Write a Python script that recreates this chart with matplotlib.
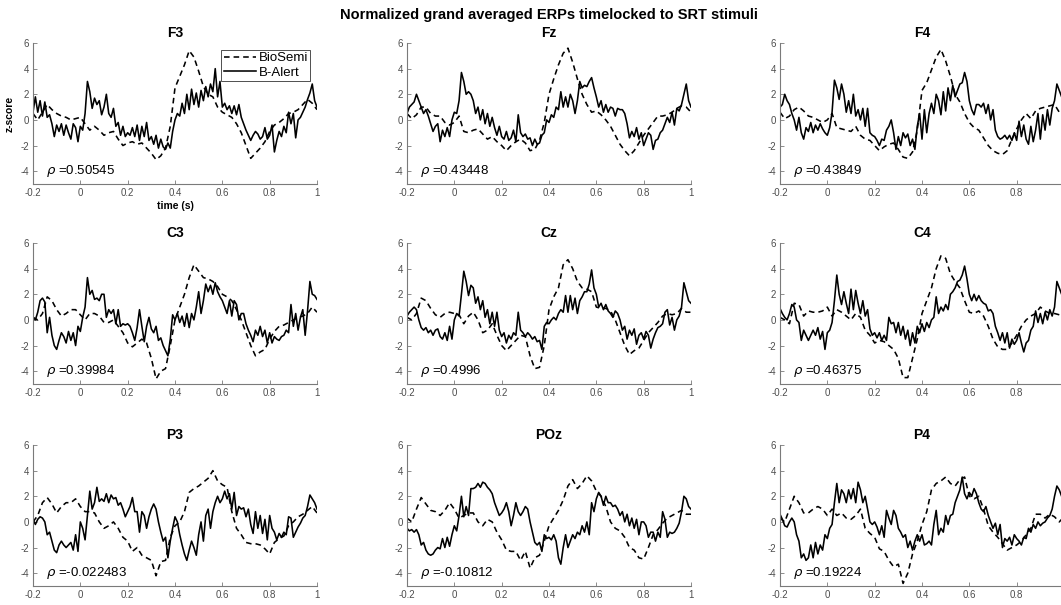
import numpy as np
import matplotlib
matplotlib.use('Agg')
import matplotlib.pyplot as plt

plt.rcParams['font.family'] = ['Liberation Sans', 'DejaVu Sans']
plt.rcParams['axes.unicode_minus'] = False

channels = ['F3', 'Fz', 'F4', 'C3', 'Cz', 'C4', 'P3', 'POz', 'P4']
rho = ['0.50545', '0.43448', '0.43849', '0.39984', '0.4996', '0.46375',
       '-0.022483', '-0.10812', '0.19224']
xtick_vals = [-0.2, 0, 0.2, 0.4, 0.6, 0.8, 1]
xtick_labels = ['-0.2', '0', '0.2', '0.4', '0.6', '0.8', '1']
ytick_vals = [-4, -2, 0, 2, 4, 6]

# BioSemi grand averages (z-score), 20 ms steps, -0.2 .. 1.0 s
biosemi_F3 = [0.5, 0.0, 0.6, 1.2, 0.8, 0.5, 0.3, 0.2, 0.0, 0.1,
              0.2, -0.3, -0.8, -0.5, -0.8, -1.2, -1.0, -0.9, -1.5, -2.0,
              -1.8, -1.7, -1.9, -1.8, -2.2, -2.6, -3.1, -2.8, -2.2, -0.5,
              2.5, 3.4, 4.3, 5.4, 4.9, 3.8, 2.6, 2.0, 1.8, 1.0,
              0.6, 0.4, 0.2, -0.3, -1.0, -2.0, -3.0, -2.6, -2.2, -1.7,
              -0.9, -0.4, -0.2, 0.1, 0.5, 0.6, 0.8, 1.2, 1.6, 1.3,
              0.8]
biosemi_Fz = [0.5, 0.1, 0.4, 1.0, 1.0, 0.5, 0.3, 0.3, -0.2, -0.4,
              -0.2, 0.3, -0.9, -1.0, -0.8, -0.7, -1.1, -1.5, -1.3, -1.7,
              -2.0, -2.4, -2.0, -1.7, -1.5, -1.8, -2.4, -2.3, -1.6, -0.2,
              2.0, 3.2, 4.3, 5.2, 5.6, 4.5, 3.2, 2.0, 1.2, 0.6,
              0.7, 0.4, 0.0, -0.5, -1.2, -1.9, -2.4, -2.8, -2.4, -1.8,
              -1.2, -0.7, -0.2, 0.3, 0.3, 0.4, 0.6, 0.9, 1.1, 1.0,
              0.6]
biosemi_F4 = [0.6, 0.1, 0.3, 0.8, 1.0, 0.7, 0.3, 0.2, 0.0, -0.2,
              0.0, 0.5, -0.6, -0.7, -0.8, -0.9, -0.5, -1.2, -1.5, -1.6,
              -2.0, -2.4, -2.1, -1.9, -1.8, -2.3, -2.9, -3.0, -2.5, -0.8,
              2.3, 2.9, 3.9, 4.9, 5.5, 4.6, 3.4, 2.0, 1.4, 0.5,
              -0.2, -0.6, -0.8, -1.4, -2.0, -2.4, -2.6, -2.7, -2.4, -1.5,
              -0.7, 0.0, 0.5, 0.1, 0.7, 0.9, 1.0, 1.1, 1.2, 0.6,
              0.3]
biosemi_C3 = [0.2, 0.0, 0.5, 1.8, 1.5, 0.8, 0.3, 0.5, 0.8, 0.8,
              0.4, 0.0, 0.5, 0.5, 0.3, -0.2, -0.2, 0.0, -0.5, -1.0,
              -1.8, -2.1, -1.8, -1.5, -1.8, -3.0, -4.6, -4.0, -3.8, -2.0,
              0.0, 1.0, 2.0, 3.3, 4.3, 3.8, 3.3, 3.2, 3.0, 2.6,
              2.0, 1.8, 1.5, 0.8, 0.0, -1.0, -2.0, -2.8, -2.5, -2.3,
              -1.5, -0.9, -0.5, -0.4, -0.2, 0.0, 0.2, 0.3, 0.5, 1.0,
              0.6]
biosemi_Cz = [0.2, 0.0, 0.5, 1.7, 1.5, 0.9, 0.4, 0.2, 0.5, 0.6,
              0.5, 0.4, -0.3, 0.3, 0.6, 0.0, -1.0, -0.8, -0.3, -1.2,
              -2.0, -2.4, -2.0, -1.6, -1.2, -1.3, -2.8, -3.8, -3.7, -2.0,
              0.8, 1.8, 2.5, 4.3, 4.7, 4.0, 3.0, 2.5, 2.4, 2.2,
              1.0, 0.9, 0.9, 0.7, 0.0, -1.0, -2.0, -2.7, -2.4, -2.2,
              -1.6, -1.0, -0.6, -0.2, 0.3, 0.5, 0.4, 0.5, 0.9, 0.6,
              0.6]
biosemi_C4 = [0.2, 0.0, -0.3, 1.3, 1.2, 0.3, 0.7, 0.6, 0.6, 0.7,
              1.0, 0.3, 0.8, 0.6, 0.3, 0.0, 0.5, 0.2, -0.8, -1.2,
              -1.8, -1.6, -1.7, -2.0, -2.3, -3.0, -4.5, -4.5, -3.0, -1.5,
              0.5, 1.5, 2.5, 4.0, 5.0, 4.8, 3.6, 3.0, 2.5, 1.5,
              0.6, 0.5, 0.7, 0.3, -0.5, -1.5, -2.1, -2.3, -2.3, -1.8,
              -1.2, -0.5, 0.0, 0.3, 0.5, 1.0, 0.7, 0.5, 0.5, 0.4,
              0.3]
biosemi_P3 = [0.0, 0.5, 1.5, 1.9, 1.4, 0.7, 1.2, 1.5, 1.5, 1.8,
              1.2, 0.8, 0.8, 0.7, 0.0, -0.5, -0.3, 0.0, -0.5, -1.2,
              -1.5, -2.3, -2.0, -2.6, -2.8, -3.0, -4.2, -3.1, -3.0, -1.2,
              -0.3, 0.0, 0.8, 2.3, 2.6, 2.8, 3.1, 3.4, 4.0, 3.2,
              2.9, 2.7, 0.8, -0.5, -1.0, -1.6, -1.7, -1.7, -1.8, -2.1,
              -2.5, -1.6, -1.3, -1.1, -0.3, 0.0, 0.4, 0.6, 0.9, 1.2,
              0.7]
biosemi_POz = [0.3, 0.0, 1.0, 1.9, 1.4, 0.9, 0.8, 0.5, 0.9, 1.5,
               1.0, 0.3, 0.5, 0.7, 0.7, 0.0, -0.3, 0.2, 0.0, -0.8,
               -1.4, -2.2, -2.3, -2.3, -3.0, -2.3, -3.6, -2.8, -2.6, -1.5,
               -0.3, 0.3, 0.9, 1.7, 2.8, 3.3, 2.6, 3.0, 3.6, 3.2,
               2.4, 2.0, 1.2, 0.0, -0.5, -0.7, -1.2, -2.0, -2.2, -2.8,
               -2.9, -2.0, -1.0, -0.6, -0.1, 0.3, 0.5, 0.7, 0.9, 0.6,
               0.6]
biosemi_P4 = [0.3, 0.0, 1.0, 2.0, 1.5, 0.7, 0.7, 1.0, 1.2, 1.0,
              0.5, 1.0, 0.5, 0.7, 0.3, 0.2, 0.5, 1.0, -0.5, -0.9,
              -1.2, -2.1, -2.3, -3.0, -3.5, -3.3, -4.8, -4.0, -2.5, -1.5,
              -0.2, 0.8, 2.5, 3.0, 3.2, 3.5, 3.0, 2.8, 3.3, 3.5,
              2.0, 1.8, 2.0, 1.0, -0.3, -0.8, -1.2, -1.7, -2.2, -2.0,
              -1.8, -1.5, -1.0, -0.5, 0.6, 0.6, 0.3, 0.6, 0.4, 0.0,
              0.4]

# B-Alert grand averages (z-score), 10 ms steps, -0.2 .. 1.0 s
balert_F3 = [0.6, 1.8, 0.6, 1.5, 0.3, 1.4, 0.2, 0.4, -0.3, -1.3,
             -0.4, -0.9, -0.3, -1.2, -0.4, -1.0, -1.5, -0.3, -0.6, -1.7,
             -0.5, -0.8, 0.5, 3.0, 2.2, 0.9, 1.7, 1.2, 1.5, 0.4,
             1.0, 2.0, 0.5, 0.2, 0.9, -0.5, -0.2, -1.2, -0.5, -1.3,
             -1.0, -1.2, -0.6, -1.3, -0.4, -1.6, -0.5, -1.3, -0.2, -1.6,
             -1.3, -1.9, -1.2, -2.2, -1.5, -2.1, -2.3, -1.8, -2.2, -0.9,
             0.0, 0.5, 0.3, 1.3, 0.5, 2.0, 0.8, 2.4, 1.2, 2.1,
             1.0, 2.3, 1.5, 2.6, 1.8, 2.8, 2.2, 4.0, 1.8, 3.0,
             1.0, 1.3, 0.8, 1.1, 0.5, 1.1, 0.4, 1.2, 0.2, -0.3,
             -0.8, -1.2, -1.6, -1.2, -0.9, -1.1, -1.5, -1.3, -0.6, -1.5,
             -1.2, -0.4, -2.5, -1.6, -0.9, -1.3, -0.5, -1.0, 0.6, -0.3,
             0.5, -1.4, 0.0, 0.2, 0.6, 1.0, 1.6, 2.1, 2.8, 1.5,
             1.0]
balert_Fz = [0.5, 1.0, 1.2, 1.4, 2.0, 1.5, 1.0, 0.5, 0.8, 0.3,
             -0.3, -0.9, -0.5, -0.3, -1.7, -0.8, -1.3, -0.6, -1.3, 0.0,
             0.6, 0.5, 1.5, 3.7, 3.0, 2.0, 2.2, 2.0, 1.5, 0.5,
             1.0, 0.0, 0.8, -0.3, 0.5, -0.5, 0.2, -0.6, -1.2, -0.5,
             -1.3, -1.5, -0.9, -1.6, -1.4, -0.8, -1.7, 0.4, -1.0, -1.3,
             -1.1, -1.5, -1.4, -2.0, -1.5, -1.9, -1.8, -1.2, -1.0, 0.0,
             -0.2, 0.4, 0.2, 1.0, 0.8, 2.2, 1.0, 1.8, 1.0, 2.0,
             1.5, 0.5, 1.5, 3.0, 2.5, 2.7, 2.6, 3.0, 3.3, 2.5,
             1.8, 1.0, 1.5, 0.6, 1.2, 0.6, 1.0, 0.9, 0.3, 0.9,
             0.8, 0.8, 0.5, -0.3, -1.4, -0.9, -1.3, -0.6, -1.5, -1.0,
             -2.0, -1.5, -1.0, -1.2, -2.3, -1.6, -1.5, -1.0, -0.8, -0.3,
             0.2, -0.2, 0.6, -0.4, 0.9, 0.7, 1.2, 2.0, 2.8, 1.5,
             1.0]
balert_F4 = [1.0, 1.2, 2.0, 1.5, 1.2, 0.5, 0.0, -0.8, 0.2, -1.0,
             -1.5, -0.6, -0.9, -0.2, -1.0, -0.4, -0.8, -0.3, -0.7, -1.0,
             -1.2, -0.6, 0.6, 3.1, 2.5, 1.6, 2.8, 2.0, 0.6, 1.5,
             0.5, 2.0, 0.3, 0.8, 0.0, 0.9, -0.5, 0.9, -1.0, -1.2,
             -1.3, -1.6, -2.0, -1.5, -1.6, -0.8, -0.5, 0.0, -1.0, -2.3,
             -1.3, -2.0, -1.0, -1.4, -1.1, -2.0, -1.5, -2.3, -0.5, 0.5,
             -1.5, 0.8, -1.0, 0.5, 1.3, 0.5, 2.0, 1.5, 0.4, 2.2,
             0.7, 2.5, 1.5, 2.7, 1.8, 2.3, 2.8, 2.9, 3.7, 3.0,
             1.5, 0.8, 0.4, 1.2, 1.2, 1.0, 1.3, 0.5, 1.2, 0.0,
             0.8, -0.8, -1.3, -1.5, -1.4, -1.2, -1.5, -1.2, -1.6, -1.0,
             -1.6, -0.1, -1.3, -0.4, -1.5, -1.9, -0.5, -1.7, -0.8, 0.5,
             -1.5, 0.4, -0.8, 0.8, -0.4, 0.9, 1.5, 2.8, 2.3, 1.8,
             1.5]
balert_C3 = [0.2, 0.0, 0.6, 1.5, 1.7, 1.4, -1.0, 0.2, -1.2, -2.0,
             -2.3, -1.6, -1.0, -1.3, -1.8, -0.9, -1.6, -1.0, -2.0, -0.5,
             -0.9, 0.2, 1.0, 3.3, 2.0, 2.3, 1.6, 1.7, 1.5, 2.0,
             2.0, 0.2, 0.8, 0.5, 0.8, -0.3, 0.8, -0.5, -0.3, -0.4,
             -0.3, -0.5, -1.0, -1.6, -0.6, 0.8, -0.5, -1.7, -0.5, 0.2,
             -0.7, -1.0, -0.5, -1.6, -1.4, -2.0, -2.4, -2.8, -1.5, 0.4,
             0.0, 0.5, -0.2, 0.3, -0.5, 0.5, -0.6, 0.5, 0.0, 1.0,
             2.2, 0.5, 1.5, 2.8, 2.2, 2.7, 2.0, 2.9, 2.2, 1.8,
             1.5, 1.0, 0.5, 1.5, 0.3, 1.5, 1.2, 0.0, 0.5, 0.5,
             -0.3, -0.8, -1.2, -1.7, -0.8, -1.2, -0.5, -1.3, -0.8, -1.8,
             -1.0, -1.8, -1.3, -1.5, -1.6, -1.3, -1.2, -0.8, -1.0, 1.2,
             -0.5, 0.5, -0.8, 0.2, 0.8, -1.2, 0.7, 3.0, 2.0, 1.9,
             1.6]
balert_Cz = [0.3, 0.6, 0.8, 1.0, 0.8, 0.0, -0.6, -0.8, -0.6, -1.0,
             -0.8, -1.2, -0.8, -0.7, -1.3, -1.5, -1.0, -1.6, -0.5, -1.5,
             0.0, 0.5, 0.3, 2.0, 3.8, 3.0, 1.9, 2.7, 2.5, 1.3,
             1.8, 0.8, 1.5, 0.2, 0.8, -0.3, 0.6, -0.5, 0.6, -0.8,
             -1.3, -1.0, -1.8, -1.2, -1.5, -1.0, -1.2, 0.6, -0.8, -1.0,
             -1.3, -1.0, -1.2, -1.5, -1.3, -1.7, -1.6, -2.3, -0.5, -0.2,
             -0.3, 0.0, 0.2, 0.0, 0.5, 0.8, 0.6, 1.9, 0.6, 1.9,
             0.8, 1.7, 0.5, 1.5, 1.8, 2.2, 2.2, 2.8, 3.9, 2.5,
             2.0, 1.0, 1.3, 0.8, 1.2, 0.7, 0.5, 0.2, 0.7, 0.5,
             0.0, -0.8, -0.5, -1.5, -0.8, -1.2, -0.7, -1.9, -1.2, -1.0,
             -1.5, -0.9, -1.2, -2.2, -1.5, -1.0, -0.6, -0.5, -0.3, 0.6,
             0.8, -0.4, 0.2, -0.8, 0.0, 0.3, 1.0, 2.9, 2.2, 1.5,
             1.3]
balert_C4 = [0.9, 0.5, 0.2, 0.0, 0.5, 1.2, 1.0, 0.0, -0.2, -1.6,
             -0.8, -1.2, -1.6, -1.2, -0.8, -1.2, -0.6, -1.5, -0.9, -2.3,
             -1.0, -0.8, -0.2, 1.5, 3.5, 2.0, 1.2, 2.2, 1.3, 0.5,
             2.4, 0.8, 2.3, 1.3, 0.5, 1.5, 0.3, 0.8, -0.7, -1.2,
             -1.0, -1.4, -1.0, -1.6, -1.2, -1.6, 0.2, -0.3, -0.2, -1.0,
             -0.2, -1.2, -0.5, -1.5, -0.8, -2.0, -1.0, -1.8, -0.5, -1.0,
             -0.3, -0.9, -0.2, -0.6, 0.0, 0.2, 1.8, 0.5, 1.0, 0.7,
             1.2, 0.8, 2.0, 2.2, 2.5, 3.0, 3.1, 3.5, 4.2, 3.2,
             2.0, 1.5, 2.0, 1.5, 1.9, 1.5, 1.3, 1.2, 0.7, 0.8,
             0.5, -0.5, -1.0, -1.6, -1.0, -1.8, -1.0, -2.2, -1.5, -1.9,
             -1.6, -1.0, -1.8, -2.5, -1.8, -1.6, -0.8, -0.5, 0.7, -0.2,
             0.5, -0.3, 0.6, 0.0, 0.8, 0.3, 1.0, 3.0, 2.5, 2.0,
             2.0]
balert_P3 = [0.2, -0.2, 0.2, 0.4, 0.3, 0.0, -1.0, -0.8, -1.5, -2.2,
             -2.4, -1.8, -1.5, -1.8, -2.0, -1.8, -1.6, -2.2, -1.0, -2.3,
             0.0, -0.5, -1.4, 0.5, 2.4, 1.0, 1.5, 2.7, 1.6, 1.8,
             1.6, 2.2, 1.5, 2.1, 1.8, 1.9, 1.3, 1.5, 1.0, 0.4,
             0.8, 1.2, 1.9, 0.8, 0.8, -0.8, 0.8, 0.5, -0.5, 0.4,
             1.0, 1.4, 1.0, 0.0, -0.8, -1.5, -1.2, -2.8, -1.5, -0.5,
             0.4, 0.0, -1.0, -1.8, -2.5, -3.0, -2.2, -1.5, -2.0, -2.6,
             -1.0, 0.0, -1.5, 0.5, 1.0, -0.5, 0.8, 1.5, 2.0, 1.5,
             1.8, 2.4, 1.8, 2.2, 1.0, 2.3, 0.5, 1.2, 1.0, 1.1,
             0.4, 1.0, -0.2, -0.9, 0.8, -0.5, 0.5, -0.9, 0.2, -1.4,
             0.5, -0.5, -0.8, -1.4, -0.9, -1.2, -0.8, -1.0, 0.4, 0.3,
             -1.2, -0.8, -0.4, -0.1, 0.3, 0.5, 1.2, 2.1, 1.8, 1.5,
             1.0]
balert_POz = [-0.5, -0.7, -0.6, -0.8, -0.6, -1.0, -1.8, -1.6, -2.2, -2.5,
              -2.6, -2.5, -2.2, -2.0, -2.1, -1.3, -2.0, -1.2, -1.9, -1.0,
              -0.3, -0.7, 0.5, 2.0, 0.4, 1.2, 0.5, 2.6, 2.6, 2.7,
              3.0, 2.7, 3.1, 3.0, 2.7, 2.5, 2.2, 1.5, 1.0, 0.5,
              0.7, 1.0, 1.5, 0.8, -0.3, 0.5, 1.5, 0.8, 0.5, 0.8,
              1.2, 1.0, 0.0, -0.8, -1.6, -1.8, -1.6, -2.3, -1.0, -1.3,
              -1.2, -1.4, -1.0, -1.5, -2.8, -3.3, -2.0, -1.0, -2.0, -1.5,
              -1.0, -1.3, -0.8, -1.0, -0.3, -0.8, 0.0, -1.0, 1.5, 0.8,
              1.8, 2.3, 2.0, 1.3, 2.0, 1.5, 1.5, 1.2, 1.3, 1.0,
              0.5, 0.8, 0.0, 0.6, -0.3, 0.3, -0.5, 0.2, -1.0, 0.0,
              0.0, -0.3, -1.2, -0.8, -0.8, -1.5, -0.8, -1.2, 0.8, 0.2,
              -1.2, -0.8, -0.9, -0.8, -0.5, -0.1, 0.8, 2.0, 1.8, 1.2,
              1.0]
balert_P4 = [0.6, 0.2, -0.3, -0.4, 0.0, 0.3, 0.0, -1.0, -1.5, -2.8,
             -2.5, -3.0, -2.8, -1.8, -2.8, -1.6, -2.5, -1.8, -2.2, -1.0,
             -1.3, -0.5, -0.2, 1.5, 3.0, 1.5, 2.5, 2.2, 1.5, 2.5,
             1.8, 2.6, 1.5, 3.1, 2.5, 1.5, 2.0, 1.0, 0.0, -0.2,
             0.0, -0.4, -1.0, -0.3, -1.2, 0.9, 0.3, -0.2, 0.9, 0.5,
             -0.5, -0.8, -1.2, -1.0, -2.0, -1.5, -2.2, -1.5, -1.0, -1.5,
             -1.0, -1.8, -1.7, -1.5, -1.8, -0.2, 0.9, -1.0, -0.5, -0.8,
             0.5, -0.2, 0.5, 0.6, 1.5, 2.0, 2.5, 3.5, 2.2, 1.8,
             2.3, 2.0, 2.6, 2.2, 1.5, 1.0, 0.8, 1.2, 0.5, 0.0,
             -0.5, -0.1, -1.0, -0.2, -2.0, -1.3, -1.5, -1.2, -1.8, -1.0,
             -1.3, -1.5, -1.8, -1.2, -1.3, -0.5, -0.8, -0.2, -0.5, 0.0,
             -0.3, -0.1, 0.0, 0.3, 0.5, 1.0, 2.0, 2.8, 2.5, 2.0,
             1.5]

biosemi = dict(F3=biosemi_F3, Fz=biosemi_Fz, F4=biosemi_F4,
               C3=biosemi_C3, Cz=biosemi_Cz, C4=biosemi_C4,
               P3=biosemi_P3, POz=biosemi_POz, P4=biosemi_P4)
balert = dict(F3=balert_F3, Fz=balert_Fz, F4=balert_F4,
              C3=balert_C3, Cz=balert_Cz, C4=balert_C4,
              P3=balert_P3, POz=balert_POz, P4=balert_P4)

W, H = 1061, 605
col_left = [33, 407, 780]
row_top = [43, 243, 445]
ax_w, ax_h = 284, 141
axis_grey = '#7a7a7a'
text_grey = '#4d4d4d'

fig = plt.figure(figsize=(W / 100, H / 100), dpi=100)
fig.text(549 / W, 1 - 15 / H, 'Normalized grand averaged ERPs timelocked to SRT stimuli',
         ha='center', va='center', fontsize=10.5, fontweight='bold')

for i, ch in enumerate(channels):
    r, c = divmod(i, 3)
    ax = fig.add_axes([col_left[c] / W, 1 - (row_top[r] + ax_h) / H, ax_w / W, ax_h / H])

    bs = np.array(biosemi[ch])
    ba = np.array(balert[ch])
    t_bs = np.linspace(-0.2, 1.0, len(bs))
    t_ba = np.linspace(-0.2, 1.0, len(ba))
    l1, = ax.plot(t_bs, bs, color='k', lw=1.15, ls=(0, (3.5, 2.5)), label='BioSemi')
    l2, = ax.plot(t_ba, ba, color='k', lw=1.15, label='B-Alert')

    ax.set_xlim(-0.2, 1.0)
    ax.set_ylim(-5, 6)
    ax.set_xticks(xtick_vals)
    # the right-hand column runs past the figure edge, so its last label is not shown
    labels = xtick_labels if c < 2 else xtick_labels[:-1] + ['']
    ax.set_xticklabels(labels)
    ax.set_yticks(ytick_vals)
    ax.tick_params(direction='in', length=3, width=0.6, labelsize=7,
                   colors=axis_grey, labelcolor=text_grey, pad=3)
    for side in ['top', 'right']:
        ax.spines[side].set_visible(False)
    for side in ['left', 'bottom']:
        ax.spines[side].set_color(axis_grey)
        ax.spines[side].set_linewidth(0.8)

    ax.set_title(ch, fontsize=10, fontweight='bold', pad=4)
    ax.text(-0.145, -4.0, r'$\rho$ =' + rho[i], fontsize=9.5, va='center', ha='left')

    if i == 0:
        ax.set_xlabel('time (s)', fontsize=7.5, fontweight='bold', labelpad=2)
        ax.set_ylabel('z-score', fontsize=7.5, fontweight='bold', labelpad=4)
        leg = ax.legend(handles=[l1, l2], loc='upper right', fontsize=9.5,
                        handlelength=2.4, handletextpad=0.2, borderpad=0.2,
                        labelspacing=0.15, borderaxespad=0.5, fancybox=False,
                        framealpha=1)
        leg.get_frame().set_edgecolor('#333333')
        leg.get_frame().set_linewidth(0.6)

fig.savefig('out.png', dpi=100)
